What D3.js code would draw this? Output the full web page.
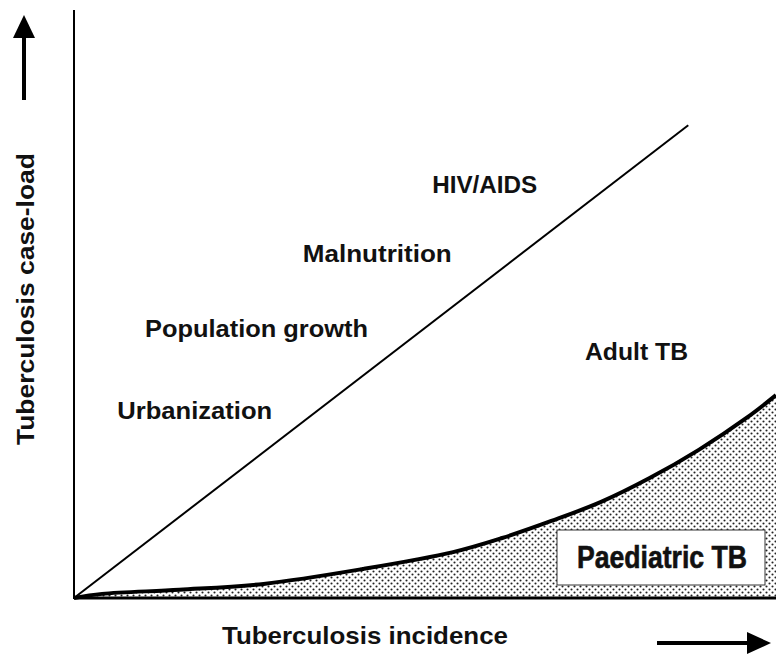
<!DOCTYPE html>
<html>
<head>
<meta charset="utf-8">
<script src="https://cdn.jsdelivr.net/npm/d3@7"></script>
<style>
  html, body { margin: 0; padding: 0; background: #fff; }
  text { font-family: Arial, "Liberation Sans", sans-serif; font-weight: bold; fill: #111; }
</style>
</head>
<body>
<svg id="canvas" width="776" height="655"></svg>
<script>
// ===== Data =====
// adult TB case-load rises linearly with incidence
const adultX = [0, 87.5];
const adultY = [0, 80.4];
// paediatric TB case-load (lower, convex curve)
const paedX = [0, 4, 15, 27, 41, 54, 61, 68, 75, 82, 89, 96, 100];
const paedY = [0, 0.7, 1.4, 2.4, 4.9, 7.8, 10.2, 13.1, 16.3, 20.4, 25.2, 30.8, 34.5];
// driver labels (centre x, baseline y in data units)
const driverNames = ["HIV/AIDS", "Malnutrition", "Population growth", "Urbanization"];
const driverX = [58.5, 43.2, 26.0, 17.2];
const driverY = [68.9, 57.1, 44.4, 30.4];

const svg = d3.select("#canvas");

const x = d3.scaleLinear().domain([0, 100]).range([74, 776]);
const y = d3.scaleLinear().domain([0, 100]).range([598, 10]);

// dotted fill pattern
const defs = svg.append("defs");
const pat = defs.append("pattern")
  .attr("id", "dots")
  .attr("patternUnits", "userSpaceOnUse")
  .attr("width", 6)
  .attr("height", 6);
pat.append("circle").attr("cx", 1.5).attr("cy", 1.5).attr("r", 1.05).attr("fill", "#222");
pat.append("circle").attr("cx", 4.5).attr("cy", 4.5).attr("r", 1.05).attr("fill", "#222");

const paed = paedX.map((d, i) => [d, paedY[i]]);
const smooth = d3.curveCatmullRom.alpha(0.5);

// Paediatric area
svg.append("path")
  .datum(paed)
  .attr("d", d3.area().x(d => x(d[0])).y0(y(0)).y1(d => y(d[1])).curve(smooth))
  .attr("fill", "url(#dots)");

svg.append("path")
  .datum(paed)
  .attr("d", d3.line().x(d => x(d[0])).y(d => y(d[1])).curve(smooth))
  .attr("fill", "none")
  .attr("stroke", "#000")
  .attr("stroke-width", 4);

// Adult line
svg.append("line")
  .attr("x1", x(adultX[0])).attr("y1", y(adultY[0]))
  .attr("x2", x(adultX[1])).attr("y2", y(adultY[1]))
  .attr("stroke", "#000")
  .attr("stroke-width", 2);

// Axes
svg.append("line")
  .attr("x1", x(0)).attr("y1", y(100))
  .attr("x2", x(0)).attr("y2", y(0) + 1)
  .attr("stroke", "#000").attr("stroke-width", 2);
svg.append("line")
  .attr("x1", x(0)).attr("y1", y(0))
  .attr("x2", x(100)).attr("y2", y(0))
  .attr("stroke", "#000").attr("stroke-width", 3);

// Paediatric TB box
svg.append("rect")
  .attr("x", 557).attr("y", 530)
  .attr("width", 208).attr("height", 55)
  .attr("fill", "#fff")
  .attr("stroke", "#333").attr("stroke-width", 1);
svg.append("text")
  .attr("x", 662).attr("y", 568)
  .attr("text-anchor", "middle")
  .attr("font-size", 31)
  .style("font-family", "'Liberation Sans Narrow', 'Arial Narrow', sans-serif")
  .style("stroke", "#111").style("stroke-width", 0.6)
  .attr("textLength", 170)
  .attr("lengthAdjust", "spacingAndGlyphs")
  .text("Paediatric TB");

// Driver labels
const widths = [105, 149, 223, 155];
svg.selectAll(".driver")
  .data(driverNames)
  .enter()
  .append("text")
  .attr("class", "driver")
  .attr("x", (d, i) => x(driverX[i]))
  .attr("y", (d, i) => y(driverY[i]))
  .attr("text-anchor", "middle")
  .attr("font-size", 24)
  .attr("textLength", (d, i) => widths[i])
  .attr("lengthAdjust", "spacingAndGlyphs")
  .text(d => d);

svg.append("text")
  .attr("x", 585).attr("y", 360)
  .attr("font-size", 24)
  .attr("textLength", 103)
  .attr("lengthAdjust", "spacingAndGlyphs")
  .text("Adult TB");

// Axis titles
svg.append("text")
  .attr("x", 222).attr("y", 644)
  .attr("font-size", 24)
  .attr("textLength", 286)
  .attr("lengthAdjust", "spacingAndGlyphs")
  .text("Tuberculosis incidence");

svg.append("text")
  .attr("transform", "translate(34, 153) rotate(-90)")
  .attr("text-anchor", "end")
  .attr("font-size", 24)
  .attr("textLength", 292)
  .attr("lengthAdjust", "spacingAndGlyphs")
  .text("Tuberculosis case-load");

// Arrows
svg.append("line")
  .attr("x1", 24).attr("y1", 100).attr("x2", 24).attr("y2", 35)
  .attr("stroke", "#000").attr("stroke-width", 4);
svg.append("path")
  .attr("d", "M24,15 L35,38 L13,38 Z")
  .attr("fill", "#000");

svg.append("line")
  .attr("x1", 657).attr("y1", 643).attr("x2", 750).attr("y2", 643)
  .attr("stroke", "#000").attr("stroke-width", 4);
svg.append("path")
  .attr("d", "M771,643 L747,632 L747,654 Z")
  .attr("fill", "#000");
</script>
</body>
</html>
